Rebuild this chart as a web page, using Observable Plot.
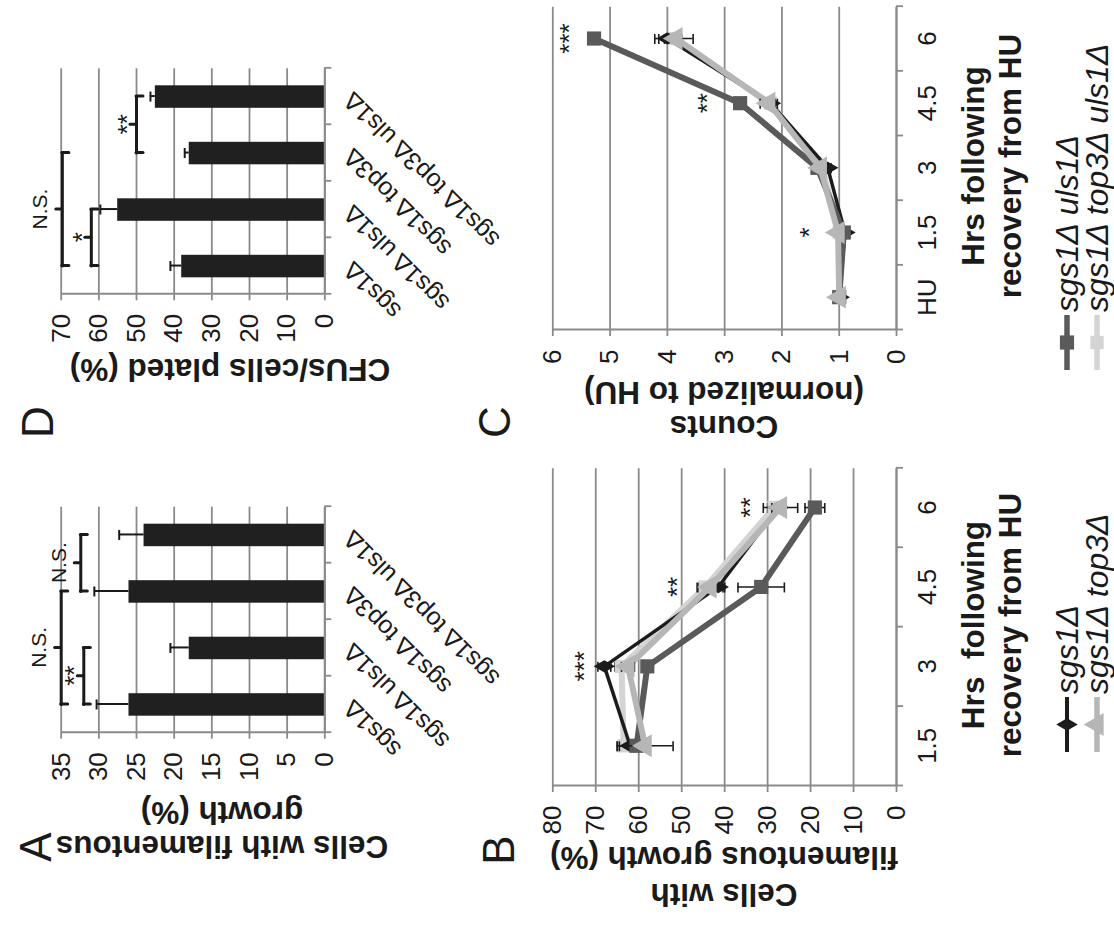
<!DOCTYPE html>
<html>
<head>
<meta charset="utf-8">
<script src="https://cdn.jsdelivr.net/npm/d3@7"></script>
<script src="https://cdn.jsdelivr.net/npm/@observablehq/plot@0.6"></script>
<style>
  html, body { margin: 0; padding: 0; background: #fff; width: 1114px; height: 930px; overflow: hidden; }
  #page { position: absolute; left: 0; top: 0; width: 930px; height: 1114px;
          transform-origin: 0 0; transform: translate(0px, 930px) rotate(-90deg); }
</style>
</head>
<body>
<div id="page"></div>
<script>
// ---------------- data ----------------
const barCategories = ["sgs1Δ", "sgs1Δ uls1Δ", "sgs1Δ top3Δ", "sgs1Δ top3Δ uls1Δ"];

// Panel A: cells with filamentous growth (%)
const filamentousPct = [26, 18, 26, 24];
const filamentousErr = [4.3, 2.5, 4.6, 3.3];
const filamentousBrackets = [
  {from: 0, to: 1, value: 32, label: "**"},
  {from: 0, to: 2, value: 35, label: "N.S."},
  {from: 2, to: 3, value: 32.4, label: "N.S."}
];

// Panel D: CFUs / cells plated (%)
const cfuPct = [38, 55, 36, 45];
const cfuErr = [3, 4.6, 1.2, 1.3];
const cfuBrackets = [
  {from: 0, to: 1, value: 62, label: "*"},
  {from: 0, to: 2, value: 69.7, label: "N.S."},
  {from: 2, to: 3, value: 50, label: "**"}
];

// Line series (shared by B and C)
const seriesNames   = ["sgs1Δ top3Δ uls1Δ", "sgs1Δ", "sgs1Δ uls1Δ", "sgs1Δ top3Δ"];
const seriesColors  = ["#d4d4d4", "#1c1c1c", "#5a5a5a", "#b6b6b6"];
const seriesSymbols = ["square", "diamond", "square", "triangle"];
const seriesWidths  = [6, 3.5, 6, 6];
const seriesSizes   = [7.5, 6.5, 8, 8.5];

// Panel B: cells with filamentous growth (%) after HU
const hoursB = ["1.5", "3", "4.5", "6"];
const filamentTop3Uls1 = [63.5, 64, 44.5, 28.5];
const filamentTop3Uls1Err = [1.5, 1.5, 1.5, 1.5];
const filamentSgs1 = [62, 68, 41.5, 27.5];
const filamentSgs1Err = [2.5, 1.5, 1.5, 1.5];
const filamentUls1 = [60.5, 58, 31.5, 19];
const filamentUls1Err = [1, 1, 5.4, 2.3];
const filamentTop3 = [58.5, 62.5, 43.4, 27];
const filamentTop3Err = [6.5, 1.5, 3, 4];
const filamentStars = [
  {i: 1, value: 74.3, label: "***"},
  {i: 2, value: 52.6, label: "**"},
  {i: 3, value: 35.5, label: "**"}
];

// Panel C: counts normalized to HU
const hoursC = ["HU", "1.5", "3", "4.5", "6"];
const countsTop3Uls1 = [1, 1.0, 1.3, 2.2, 3.9];
const countsTop3Uls1Err = [0, 0.04, 0.05, 0.08, 0.15];
const countsSgs1 = [1, 0.9, 1.2, 2.2, 4.0];
const countsSgs1Err = [0, 0.05, 0.06, 0.08, 0.22];
const countsUls1 = [1, 0.92, 1.38, 2.73, 5.28];
const countsUls1Err = [0, 0.03, 0.04, 0.06, 0.08];
const countsTop3 = [1, 1.02, 1.33, 2.23, 3.85];
const countsTop3Err = [0, 0.05, 0.05, 0.15, 0.3];
const countsStars = [
  {i: 4, value: 5.83, label: "***"},
  {i: 3, value: 3.42, label: "**"},
  {i: 1, value: 1.64, label: "*"}
];

// ---------------- drawing ----------------
const FONT = '"Liberation Sans", Arial, Helvetica, sans-serif';
const GRID = "#8a8a8a";
const INK = "#1a1a1a";
const page = document.getElementById("page");

function place(svg, left, top) {
  svg.style.position = "absolute";
  svg.style.left = left + "px";
  svg.style.top = top + "px";
  page.appendChild(svg);
}

const baseStyle = {background: "transparent", overflow: "visible", maxWidth: "none",
  fontFamily: FONT, fontSize: "26px", color: INK};

function barPanel(o) {
  const n = o.categories.length;
  const rows = o.categories.map((c, i) => ({i, c, v: o.values[i], e: o.errors[i]}));
  const yTicks = d3.range(0, o.yMax + o.yStep / 2, o.yStep);
  const bounds = d3.range(n + 1).map(k => k - 0.5);
  const mid = d => (d.from + d.to) / 2;
  const isStar = d => /^\*+$/.test(d.label);
  const brace = {stroke: INK, strokeWidth: 3, strokeLinecap: "round"};
  return Plot.plot({
    width: o.width, height: o.height,
    marginLeft: o.ml, marginRight: o.mr, marginTop: o.mt, marginBottom: o.mb,
    style: baseStyle,
    x: {domain: [-0.5, n - 0.5]},
    y: {domain: [0, o.yMax]},
    marks: [
      Plot.gridY(yTicks, {stroke: GRID, strokeOpacity: 1, strokeWidth: 1.8}),
      Plot.rect(rows, {x1: d => d.i - 0.5, x2: d => d.i + 0.5, y1: 0, y2: "v",
        fill: "#202020", insetLeft: 17, insetRight: 17}),
      Plot.ruleX(rows, {x: "i", y1: "v", y2: d => d.v + d.e, stroke: INK, strokeWidth: 2}),
      Plot.ruleY(rows, {x1: "i", x2: "i", y: d => d.v + d.e, insetLeft: -5, insetRight: -5,
        stroke: INK, strokeWidth: 2}),
      Plot.ruleX([-0.5], {stroke: GRID, strokeWidth: 2}),
      Plot.ruleY([0], {stroke: GRID, strokeWidth: 2}),
      Plot.axisY(yTicks, {tickSize: 6, tickPadding: 14, stroke: GRID, strokeWidth: 1.8,
        label: null, fill: INK, tickFormat: d => String(d)}),
      Plot.axisX(bounds, {tickSize: 7, tickFormat: () => "", stroke: GRID, strokeWidth: 1.8, label: null}),
      Plot.text(rows, {x: "i", frameAnchor: "bottom", text: "c", rotate: -45,
        textAnchor: "end", lineAnchor: "middle", dy: 23, fontSize: 25, fill: INK}),
      Plot.ruleY(o.brackets, {x1: "from", x2: "to", y: "value", ...brace}),
      Plot.ruleX(o.brackets, {x: "from", y1: "value", y2: "value", insetBottom: -7, ...brace}),
      Plot.ruleX(o.brackets, {x: "to", y1: "value", y2: "value", insetBottom: -7, ...brace}),
      Plot.ruleX(o.brackets, {x: mid, y1: "value", y2: "value", insetTop: -6, ...brace}),
      Plot.text(o.brackets.filter(isStar), {x: mid, y: "value", text: "label",
        dy: -9, fontSize: 26, fill: INK}),
      Plot.text(o.brackets.filter(d => !isStar(d)), {x: mid, y: "value", text: "label",
        dy: -22, fontSize: 21, fill: INK})
    ]
  });
}

function linePanel(o) {
  const n = o.times.length;
  const yTicks = d3.range(0, o.yMax + o.yStep / 2, o.yStep);
  const bounds = d3.range(n + 1).map(k => k - 0.5);
  const seriesMarks = o.series.flatMap(s => {
    const rows = s.values.map((v, i) => ({i, v, e: s.errors[i]}));
    const withErr = rows.filter(d => d.e > 0);
    return [
      Plot.line(rows, {x: "i", y: "v", stroke: s.color, strokeWidth: s.width, strokeLinejoin: "round"}),
      Plot.ruleX(withErr, {x: "i", y1: d => d.v - d.e, y2: d => d.v + d.e, stroke: INK, strokeWidth: 1.6}),
      Plot.ruleY(withErr, {x1: "i", x2: "i", y: d => d.v + d.e, insetLeft: -5, insetRight: -5,
        stroke: INK, strokeWidth: 1.6}),
      Plot.ruleY(withErr, {x1: "i", x2: "i", y: d => d.v - d.e, insetLeft: -5, insetRight: -5,
        stroke: INK, strokeWidth: 1.6}),
      Plot.dot(rows, {x: "i", y: "v", symbol: s.symbol, r: s.r, fill: s.color, stroke: "none"})
    ];
  });
  return Plot.plot({
    width: o.width, height: o.height,
    marginLeft: o.ml, marginRight: o.mr, marginTop: o.mt, marginBottom: o.mb,
    style: baseStyle,
    x: {domain: [-0.5, n - 0.5]},
    y: {domain: [0, o.yMax]},
    marks: [
      Plot.gridY(yTicks, {stroke: GRID, strokeOpacity: 1, strokeWidth: 1.8}),
      Plot.ruleX([-0.5], {stroke: GRID, strokeWidth: 2}),
      Plot.ruleY([0], {stroke: GRID, strokeWidth: 2}),
      Plot.axisY(yTicks, {tickSize: 6, tickPadding: 14, stroke: GRID, strokeWidth: 1.8,
        label: null, fill: INK, tickFormat: d => String(d)}),
      Plot.axisX(bounds, {tickSize: 7, tickFormat: () => "", stroke: GRID, strokeWidth: 1.8, label: null}),
      Plot.axisX(d3.range(n), {tickSize: 0, tickPadding: 21, tickFormat: i => o.times[i],
        label: null, fill: INK}),
      ...seriesMarks,
      Plot.text(o.stars, {x: "i", y: "value", text: "label", dy: 7, fontSize: 26, fill: INK})
    ]
  });
}

function seriesFor(valuesList, errorsList) {
  return seriesNames.map((name, k) => ({
    name, color: seriesColors[k], symbol: seriesSymbols[k], width: seriesWidths[k], r: seriesSizes[k],
    values: valuesList[k], errors: errorsList[k]
  }));
}

// Panel A (top-left of unrotated figure)
place(barPanel({categories: barCategories, values: filamentousPct, errors: filamentousErr,
  brackets: filamentousBrackets, yMax: 35, yStep: 5,
  width: 465, height: 560, ml: 197.3, mr: 41.7, mt: 60.7, mb: 235.7}), 0, 0);

// Panel D (top-right)
place(barPanel({categories: barCategories, values: cfuPct, errors: cfuErr,
  brackets: cfuBrackets, yMax: 70, yStep: 10,
  width: 465, height: 560, ml: 170.7, mr: 68.3, mt: 60.7, mb: 235.7}), 465, 0);

// Panel B (bottom-left)
place(linePanel({times: hoursB, yMax: 80, yStep: 10, stars: filamentStars,
  series: seriesFor([filamentTop3Uls1, filamentSgs1, filamentUls1, filamentTop3],
                    [filamentTop3Uls1Err, filamentSgs1Err, filamentUls1Err, filamentTop3Err]),
  width: 465, height: 594, ml: 144, mr: 3.3, mt: 32.3, mb: 218}), 0, 520);

// Panel C (bottom-right)
place(linePanel({times: hoursC, yMax: 6, yStep: 1, stars: countsStars,
  series: seriesFor([countsTop3Uls1, countsSgs1, countsUls1, countsTop3],
                    [countsTop3Uls1Err, countsSgs1Err, countsUls1Err, countsTop3Err]),
  width: 465, height: 594, ml: 135, mr: 6.7, mt: 32.3, mb: 218}), 465, 520);

// ---------------- titles, panel letters, legends ----------------
const overlay = d3.select(page).append("svg")
  .attr("width", 930).attr("height", 1114)
  .style("position", "absolute").style("left", "0px").style("top", "0px")
  .style("overflow", "visible").attr("font-family", FONT).attr("fill", INK);

const yTitles = [
  {text: "Cells with filamentous", x: 83, y: 222},
  {text: "growth (%)", x: 117, y: 222},
  {text: "CFUs/cells plated (%)", x: 560, y: 230},
  {text: "Cells with", x: 35, y: 724},
  {text: "filamentous growth (%)", x: 72, y: 724},
  {text: "Counts", x: 503, y: 724},
  {text: "(normalized to HU)", x: 537, y: 724}
];
overlay.selectAll("text.yt").data(yTitles).join("text")
  .attr("transform", d => `translate(${d.x},${d.y}) rotate(-90)`)
  .attr("text-anchor", "middle").attr("dominant-baseline", "central")
  .attr("font-size", 31.5).attr("font-weight", "bold").text(d => d.text);

const xTitles = [
  {text: "Hrs  following", x: 305, y: 973},
  {text: "recovery from HU", x: 305, y: 1010},
  {text: "Hrs following", x: 764, y: 973},
  {text: "recovery from HU", x: 764, y: 1010}
];
overlay.selectAll("text.xt").data(xTitles).join("text")
  .attr("x", d => d.x).attr("y", d => d.y).style("white-space", "pre")
  .attr("text-anchor", "middle").attr("dominant-baseline", "central")
  .attr("font-size", 31.5).attr("font-weight", "bold").text(d => d.text);

const panelLetters = [
  {text: "A", x: 83, y: 35}, {text: "D", x: 508, y: 37},
  {text: "B", x: 80, y: 498}, {text: "C", x: 508, y: 494}
];
overlay.selectAll("text.pl").data(panelLetters).join("text")
  .attr("x", d => d.x).attr("y", d => d.y)
  .attr("text-anchor", "middle").attr("dominant-baseline", "central")
  .attr("font-size", 44).text(d => d.text);

const legendEntries = [
  {k: 1, x: 178, y: 1067}, {k: 3, x: 178, y: 1097},
  {k: 2, x: 560, y: 1067}, {k: 0, x: 560, y: 1097}
];
const symbolTypes = {square: d3.symbolSquare, diamond: d3.symbolDiamond, triangle: d3.symbolTriangle};
const lg = overlay.selectAll("g.lg").data(legendEntries).join("g")
  .attr("transform", d => `translate(${d.x},${d.y})`);
lg.append("line").attr("x1", 0).attr("x2", 55).attr("y1", 0).attr("y2", 0)
  .attr("stroke", d => seriesColors[d.k]).attr("stroke-width", d => seriesWidths[d.k] === 3.5 ? 4 : 5.5);
lg.append("path").attr("transform", "translate(27.5,0)")
  .attr("d", d => d3.symbol(symbolTypes[seriesSymbols[d.k]], Math.PI * seriesSizes[d.k] ** 2)())
  .attr("fill", d => seriesColors[d.k]);
lg.append("text").attr("x", 58).attr("y", 0).attr("dominant-baseline", "central")
  .attr("font-size", 32).attr("font-style", "italic").text(d => seriesNames[d.k]);
</script>
</body>
</html>
